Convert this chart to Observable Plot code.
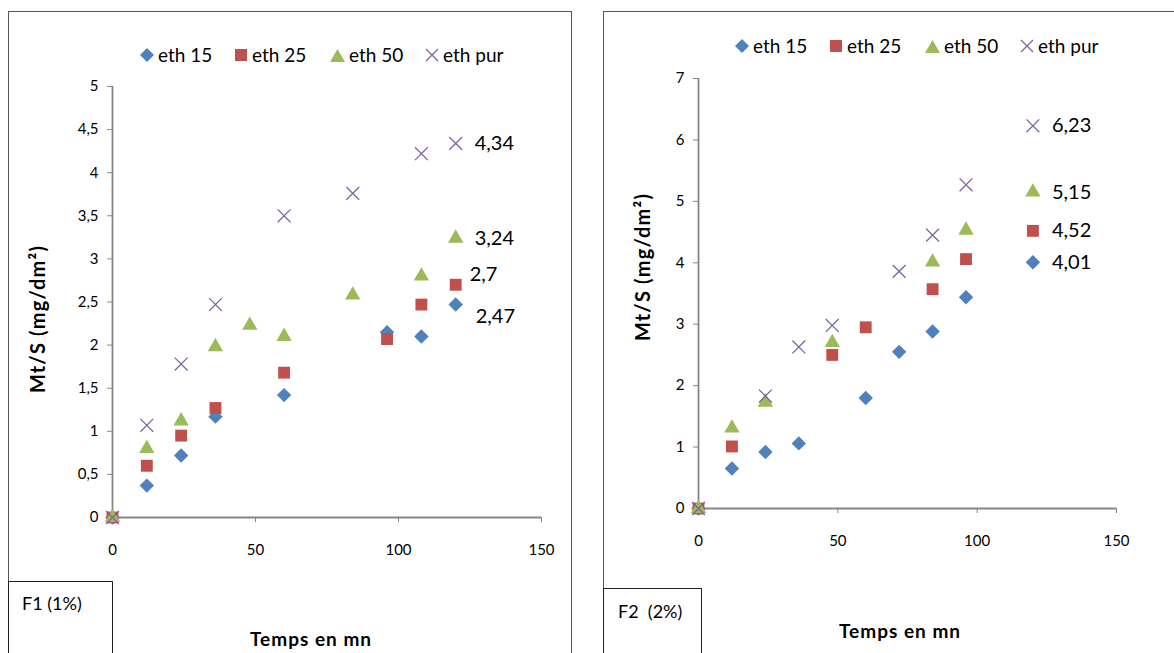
<!DOCTYPE html>
<html><head><meta charset="utf-8">
<script src="https://cdn.jsdelivr.net/npm/d3@7"></script>
<script src="https://cdn.jsdelivr.net/npm/@observablehq/plot@0.6"></script>
<style>
body{margin:0;background:#fff;font-family:Lato,"Open Sans",sans-serif;}
#root{position:relative;width:1174px;height:653px;overflow:hidden;background:#fff;}
.frame{position:absolute;border:1.5px solid #555;box-sizing:border-box;}
.box{position:absolute;border:1.5px solid #222;box-sizing:border-box;font-size:18px;}
.abs{position:absolute;}
.legend{position:absolute;display:flex;align-items:center;font-size:19px;white-space:nowrap;}
.legend span.item{display:inline-flex;align-items:center;width:95px;}
.legend svg{margin-right:4px;}
.ytitle{position:absolute;font-weight:bold;font-size:20px;transform:translate(-50%,-50%) rotate(-90deg);white-space:nowrap;letter-spacing:1.2px;}
.xtitle{position:absolute;font-weight:bold;font-size:19px;transform:translate(-50%,-50%);white-space:nowrap;letter-spacing:1px;}
</style></head>
<body><div id="root"></div>
<script>
// ---------- data ----------
const seriesNames = ["eth 15", "eth 25", "eth 50", "eth pur"];
const seriesColors = ["#4F81BD", "#C0504D", "#9BBB59", "#8064A2"];
const xTicks = [0, 50, 100, 150];
const yTicksF1 = [0, 0.5, 1, 1.5, 2, 2.5, 3, 3.5, 4, 4.5, 5];
const yTicksF2 = [0, 1, 2, 3, 4, 5, 6, 7];

// F1 (1%)
const f1_t15 = [0, 12, 24, 36, 60, 96, 108, 120];
const f1_v15 = [0, 0.37, 0.72, 1.17, 1.42, 2.15, 2.1, 2.47];
const f1_t25 = [0, 12, 24, 36, 60, 96, 108, 120];
const f1_v25 = [0, 0.6, 0.95, 1.27, 1.68, 2.07, 2.47, 2.7];
const f1_t50 = [0, 12, 24, 36, 48, 60, 84, 108, 120];
const f1_v50 = [0, 0.8, 1.12, 1.98, 2.23, 2.1, 2.58, 2.8, 3.24];
const f1_tpur = [0, 12, 24, 36, 60, 84, 108, 120];
const f1_vpur = [0, 1.07, 1.78, 2.47, 3.5, 3.76, 4.22, 4.34];

// F2 (2%)
const f2_t15 = [0, 12, 24, 36, 60, 72, 84, 96, 120];
const f2_v15 = [0, 0.65, 0.92, 1.06, 1.8, 2.55, 2.88, 3.44, 4.01];
const f2_t25 = [0, 12, 48, 60, 84, 96, 120];
const f2_v25 = [0, 1.01, 2.5, 2.95, 3.57, 4.06, 4.52];
const f2_t50 = [0, 12, 24, 48, 84, 96, 120];
const f2_v50 = [0, 1.31, 1.73, 2.7, 4.01, 4.53, 5.15];
const f2_tpur = [0, 24, 36, 48, 72, 84, 96, 120];
const f2_vpur = [0, 1.83, 2.63, 2.98, 3.86, 4.45, 5.27, 6.23];

// ---------- helpers ----------
const fmt = d => String(d).replace(".", ",");
const rows = (t, v) => t.map((x, i) => ({x, y: v[i]}));
const last = (t, v) => [{x: t[t.length - 1], y: v[v.length - 1], label: fmt(v[v.length - 1])}];
const symbolStyles = [
  {symbol: "diamond2", r: 6.5},
  {symbol: "square", r: 6.7},
  {symbol: "triangle", r: 5.7},
  {symbol: "times", r: 5.9}
];
function dotMarks(sets) {
  return sets.map(([t, v], i) => {
    const s = symbolStyles[i];
    const opts = {x: "x", y: "y", symbol: () => s.symbol, r: s.r};
    if (s.symbol === "times") { opts.stroke = seriesColors[i]; opts.strokeWidth = 1.3; opts.fill = "none"; }
    else { opts.fill = seriesColors[i]; opts.stroke = "none"; }
    return Plot.dot(rows(t, v), opts);
  });
}
function labelMarks(sets, offsets) {
  return sets.map(([t, v], i) => Plot.text(last(t, v), {
    x: "x", y: "y", text: "label", textAnchor: "start",
    dx: offsets[i][0], dy: offsets[i][1], fontSize: 20, fill: "#000"
  }));
}
function makePanel(cfg) {
  return Plot.plot({
    width: cfg.width, height: cfg.height,
    marginLeft: cfg.ml, marginRight: cfg.mr, marginTop: cfg.mt, marginBottom: cfg.mb,
    style: {fontFamily: "Lato, 'Open Sans', sans-serif", fontSize: "15px", background: "transparent", overflow: "visible", color: "#000"},
    x: {domain: [0, 150]},
    y: {domain: [0, cfg.yMax]},
    marks: [
      Plot.ruleY([0], {stroke: "#868686", strokeWidth: 1.8}),
      Plot.ruleX([0], {stroke: "#868686", strokeWidth: 1.8}),
      Plot.axisX({ticks: xTicks, tickSize: 5, tickPadding: 22, stroke: "#868686", tickFormat: fmt, fontSize: 15, fill: "#000", label: null}),
      Plot.axisY({ticks: cfg.yTicks, tickSize: 5, tickPadding: 9, stroke: "#868686", tickFormat: fmt, fontSize: 15, fill: "#000", label: null}),
      ...dotMarks(cfg.sets),
      ...labelMarks(cfg.sets, cfg.offsets)
    ]
  });
}

// ---------- layout ----------
const root = document.getElementById("root");
function add(html) { const d = document.createElement("div"); d.innerHTML = html; const el = d.firstElementChild; root.appendChild(el); return el; }

add(`<div class="frame" style="left:8px;top:11px;width:564px;height:700px;"></div>`);
add(`<div class="frame" style="left:603px;top:11px;width:700px;height:700px;"></div>`);

function placePlot(svg, left, top) {
  const w = document.createElement("div");
  w.className = "abs"; w.style.left = left + "px"; w.style.top = top + "px";
  w.appendChild(svg); root.appendChild(w);
}

placePlot(makePanel({
  width: 571, height: 570, ml: 112, mr: 30, mt: 86, mb: 53, yMax: 5, yTicks: yTicksF1,
  sets: [[f1_t15, f1_v15], [f1_t25, f1_v25], [f1_t50, f1_v50], [f1_tpur, f1_vpur]],
  offsets: [[20, 12], [14, -10], [19, 0], [19, 0]]
}), 0, 0);

placePlot(makePanel({
  width: 571, height: 560, ml: 95, mr: 58, mt: 78, mb: 52, yMax: 7, yTicks: yTicksF2,
  sets: [[f2_t15, f2_v15], [f2_t25, f2_v25], [f2_t50, f2_v50], [f2_tpur, f2_vpur]],
  offsets: [[19, 0], [19, 0], [19, 0], [19, 0]]
}), 603, 0);

// legends
function legendSymbol(i) {
  const c = seriesColors[i];
  if (i === 0) return `<svg width="14" height="14"><path d="M7 0L14 7L7 14L0 7Z" fill="${c}"/></svg>`;
  if (i === 1) return `<svg width="13" height="14"><rect x="0" y="1" width="12" height="12" fill="${c}"/></svg>`;
  if (i === 2) return `<svg width="15" height="14"><path d="M7.5 1L15 14L0 14Z" fill="${c}"/></svg>`;
  return `<svg width="14" height="14"><path d="M1 1L13 13M1 13L13 1" stroke="${c}" stroke-width="1.3"/></svg>`;
}
function legendHTML(left, top) {
  return `<div class="legend" style="left:${left}px;top:${top}px;">` +
    seriesNames.map((n, i) => `<span class="item">${legendSymbol(i)}<span>${n}</span></span>`).join("") + `</div>`;
}
add(legendHTML(140, 43));
add(legendHTML(735, 34));

// axis titles
add(`<div class="ytitle" style="left:37px;top:319px;">Mt/S (mg/dm²)</div>`);
add(`<div class="ytitle" style="left:642px;top:267px;">Mt/S (mg/dm²)</div>`);
add(`<div class="xtitle" style="left:311px;top:638px;">Temps en mn</div>`);
add(`<div class="xtitle" style="left:900px;top:630px;">Temps en mn</div>`);

// panel id boxes
add(`<div class="box" style="left:8px;top:581px;width:105px;height:100px;"><div style="position:absolute;left:13px;top:10px;">F1 (1%)</div></div>`);
add(`<div class="box" style="left:603px;top:588px;width:99px;height:100px;"><div style="position:absolute;left:14px;top:11px;">F2&nbsp; (2%)</div></div>`);
</script>
</body></html>
